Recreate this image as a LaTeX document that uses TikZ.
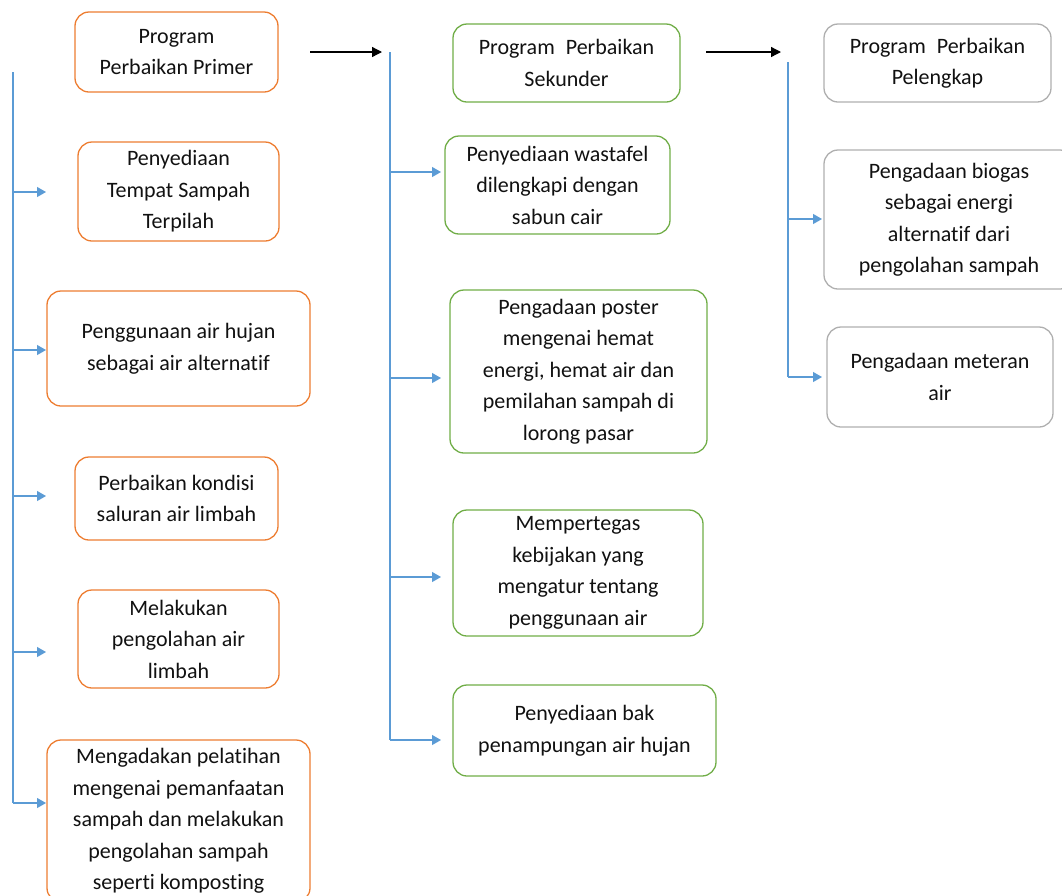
\documentclass[tikz,border=0pt]{standalone}
\usepackage{fontspec}
\setmainfont[Ligatures=NoCommon]{Carlito}
\usetikzlibrary{arrows.meta}
\definecolor{primer}{HTML}{ED7D31}
\definecolor{sekunder}{HTML}{70AD47}
\definecolor{pelengkap}{HTML}{AFAFAF}
\definecolor{branch}{HTML}{5B9BD5}
\definecolor{ink}{HTML}{111111}
\tikzset{
  box/.style={draw, rounded corners=14pt, line width=1.3pt, align=center,
    inner sep=0pt, text=ink, font=\fontsize{22}{31.5}\selectfont},
  pbox/.style={box, draw=primer},
  sbox/.style={box, draw=sekunder},
  lbox/.style={box, draw=pelengkap},
  trunk/.style={draw=branch, line width=1.2pt},
  feed/.style={draw=branch, line width=1.2pt, -{Triangle[length=9pt,width=10pt]}},
  flow/.style={draw=black, line width=1.3pt, -{Triangle[length=10pt,width=10pt]}}
}
\begin{document}
\begin{tikzpicture}[x=1pt,y=-1pt]
\useasboundingbox (0,0) rectangle (1062,895);
\clip (0,0) rectangle (1062,895);

% primary programme
\node[pbox, minimum width=203, minimum height=80] (p0) at (176.5,52) {Program\\Perbaikan Primer};
\node[pbox, minimum width=201, minimum height=99] (p1) at (178.5,191.5) {Penyediaan\\Tempat Sampah\\Terpilah};
\node[pbox, minimum width=263, minimum height=115] (p2) at (178.5,348.5) {Penggunaan air hujan\\sebagai air alternatif};
\node[pbox, minimum width=203, minimum height=83] (p3) at (176.5,498.5) {Perbaikan kondisi\\saluran air limbah};
\node[pbox, minimum width=201, minimum height=98] (p4) at (178.5,639) {Melakukan\\pengolahan air\\limbah};
\node[pbox, minimum width=263, minimum height=162] (p5) at (178.5,821) {Mengadakan pelatihan\\mengenai pemanfaatan\\sampah dan melakukan\\pengolahan sampah\\seperti komposting};

% secondary programme
\node[sbox, minimum width=227, minimum height=78] (s0) at (566.5,63) {Program\enspace Perbaikan\\Sekunder};
\node[sbox, minimum width=225, minimum height=98] (s1) at (557.5,185) {Penyediaan wastafel\\dilengkapi dengan\\sabun cair};
\node[sbox, minimum width=257, minimum height=163] (s2) at (578.5,371.5) {Pengadaan poster\\mengenai hemat\\energi, hemat air dan\\pemilahan sampah di\\lorong pasar};
\node[sbox, minimum width=250, minimum height=126] (s3) at (578,573) {Mempertegas\\kebijakan yang\\mengatur tentang\\penggunaan air};
\node[sbox, minimum width=263, minimum height=91] (s4) at (584.5,730.5) {Penyediaan bak\\penampungan air hujan};

% complementary programme
\node[lbox, minimum width=227, minimum height=78] (l0) at (937.5,63) {Program\enspace Perbaikan\\Pelengkap};
\node[lbox, minimum width=250, minimum height=139] (l1) at (949,219.5) {Pengadaan biogas\\sebagai energi\\alternatif dari\\pengolahan sampah};
\node[lbox, minimum width=226, minimum height=100] (l2) at (940,377) {Pengadaan meteran\\air};

% stage-to-stage arrows
\coordinate (f1a) at (310,52);
\coordinate (f1b) at (382,52);
\coordinate (f2a) at (706,52);
\coordinate (f2b) at (781,52);
\draw[flow] (f1a) -- (f1b);
\draw[flow] (f2a) -- (f2b);

% primary branches
\coordinate (pt) at (13,72);
\coordinate (pb) at (13,803);
\foreach \y/\n in {192/1,350/2,496/3,652/4,803/5}{
  \coordinate (pj\n) at (13,\y);
  \coordinate (pe\n) at (46,\y);
}
\draw[trunk] (pt) -- (pb);
\foreach \n in {1,...,5}{\draw[feed] (pj\n) -- (pe\n);}

% secondary branches
\coordinate (st) at (390,52);
\coordinate (sb) at (390,740);
\foreach \y/\n in {172/1,378/2,577/3,740/4}{
  \coordinate (sj\n) at (390,\y);
  \coordinate (se\n) at (441,\y);
}
\draw[trunk] (st) -- (sb);
\foreach \n in {1,...,4}{\draw[feed] (sj\n) -- (se\n);}

% complementary branches
\coordinate (lt) at (788,62);
\coordinate (lb) at (788,377);
\foreach \y/\n in {219/1,377/2}{
  \coordinate (lj\n) at (788,\y);
  \coordinate (le\n) at (822,\y);
}
\draw[trunk] (lt) -- (lb);
\foreach \n in {1,2}{\draw[feed] (lj\n) -- (le\n);}
\end{tikzpicture}
\end{document}
